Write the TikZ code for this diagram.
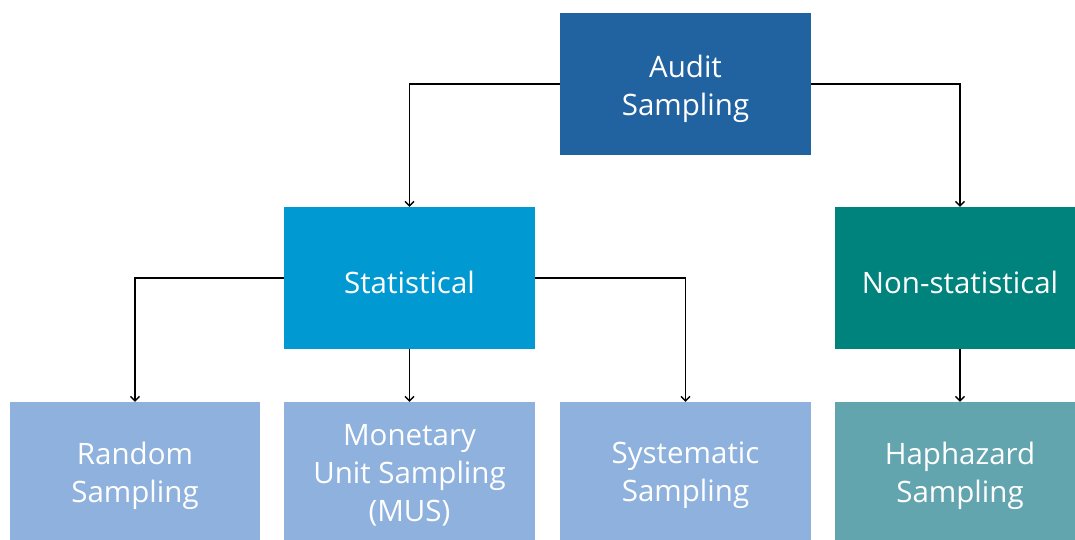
\documentclass[tikz,border=0pt]{standalone}
\usepackage{fontspec}
\setmainfont{Open Sans}
\usetikzlibrary{arrows.meta}
\definecolor{topblue}{HTML}{2162A0}
\definecolor{statblue}{HTML}{0099D1}
\definecolor{nonteal}{HTML}{00837D}
\definecolor{leafblue}{HTML}{8EB1DD}
\definecolor{leafteal}{HTML}{62A5AE}
\begin{document}
\begin{tikzpicture}[x=1pt,y=-1pt,
  box/.style={rectangle, inner sep=0pt, draw=none},
  caption/.style={text=white, align=center, yshift=-4.5pt,
    font=\fontsize{29.5}{38}\selectfont},
  link/.style={draw=black, line width=1.3pt,
    -{Straight Barb[length=4.5pt,width=9pt,line width=1.3pt]}}]
\useasboundingbox (0,0) rectangle (1075,540);
% filled boxes, each carrying its centred caption
\node[box, fill=topblue,  minimum width=251pt, minimum height=142pt,
  label={[caption]center:Audit\\Sampling}] (audit) at (685.5,84) {};
\node[box, fill=statblue, minimum width=251pt, minimum height=142pt,
  label={[caption]center:Statistical}] (stat) at (409.5,278) {};
\node[box, fill=nonteal,  minimum width=240pt, minimum height=142pt,
  label={[caption,xshift=5pt]center:Non-statistical}] (nonstat) at (955,278) {};
\node[box, fill=leafblue, minimum width=250pt, minimum height=138pt,
  label={[caption]center:Random\\Sampling}] (random) at (135,471) {};
\node[box, fill=leafblue, minimum width=251pt, minimum height=138pt,
  label={[caption]center:Monetary\\Unit Sampling\\(MUS)}] (mus) at (409.5,471) {};
\node[box, fill=leafblue, minimum width=251pt, minimum height=138pt,
  label={[caption]center:Systematic\\Sampling}] (syst) at (685.5,471) {};
\node[box, fill=leafteal, minimum width=240pt, minimum height=138pt,
  label={[caption,xshift=5pt]center:Haphazard\\Sampling}] (hap) at (955,471) {};
% connectors
\draw[link] (audit.west) -| (stat.north);
\draw[link] (audit.east) -| ([xshift=5pt]nonstat.north);
\draw[link] (stat.west) -| (random.north);
\draw[link] (stat.south) -- (mus.north);
\draw[link] (stat.east) -| (syst.north);
\draw[link] ([xshift=5pt]nonstat.south) -- ([xshift=5pt]hap.north);
\end{tikzpicture}
\end{document}
